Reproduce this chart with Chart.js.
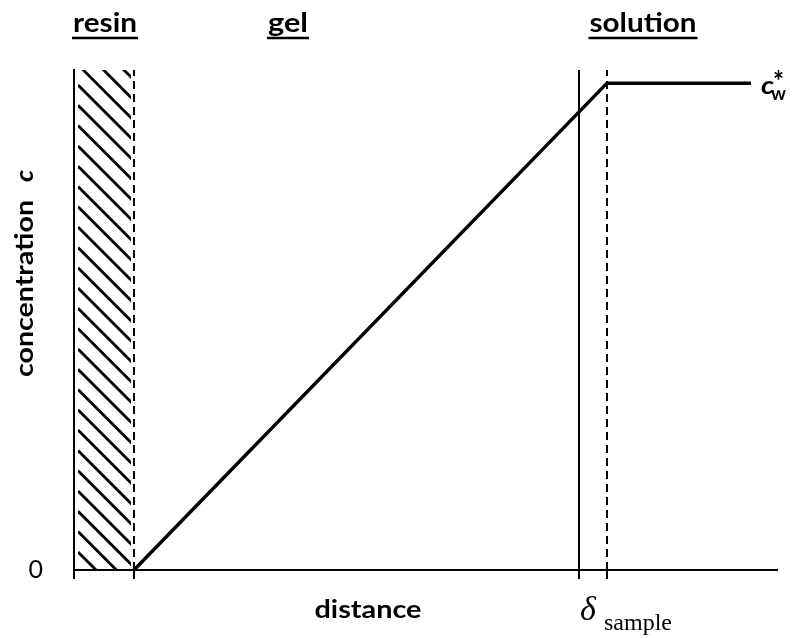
<!DOCTYPE html>
<html>
<head>
<meta charset="utf-8">
<title>Concentration profile across the gel layer</title>
<script src="https://cdn.jsdelivr.net/npm/chart.js@4/dist/chart.umd.min.js"></script>
<style>
  html, body { margin: 0; padding: 0; background: #ffffff; }
  canvas { display: block; }
</style>
</head>
<body>
<canvas id="profile" width="798" height="638"></canvas>
<script>
// Distance measured from the resin wall; concentration scaled so c_w* = 1.
const profileDistance = [60, 533, 677];
const profileConc     = [0, 1, 1];

// Layer boundaries along the distance axis.
const resinGelBoundary  = 60;
const gelSolutionFace   = 505;
const sampleBoundary    = 533;

// Axis extents and ticks.
const distanceRange = [0, 703];
const concRange     = [0, 1.027];
const distanceTicks = [0, 60, 505, 533];
const concTicks     = [0];
const concTickLabels = ['0'];

// Region names shown above the plot.
const regionNames = ['resin', 'gel', 'solution'];

// ---- drawing layout (pixels / data units for placement only) ----
const regionCenters = [31, 214, 569];     // distance units
const regionWidths  = [64, 40, 107];      // px, text width
const LABEL_FONT = 'bold 26px Lato';

function stretchedText(ctx, text, x, y, font, width, align) {
  ctx.save();
  ctx.font = font;
  const w = ctx.measureText(text).width;
  const s = width ? width / w : 1;
  let x0 = x;
  if (align === 'center') x0 = x - (w * s) / 2;
  else if (align === 'right') x0 = x - w * s;
  ctx.translate(x0, y);
  ctx.scale(s, 1);
  ctx.textAlign = 'left';
  ctx.textBaseline = 'alphabetic';
  ctx.fillText(text, 0, 0);
  ctx.restore();
  return { left: x0, right: x0 + w * s };
}

const diagramDecor = {
  id: 'diagramDecor',
  beforeDatasetsDraw(chart) {
    const { ctx, scales: { x, y } } = chart;
    // diagonal hatching of the resin
    const left = x.getPixelForValue(0) + 4;
    const right = x.getPixelForValue(resinGelBoundary) - 3;
    const top = y.getPixelForValue(concRange[1]);
    const bottom = y.getPixelForValue(0);
    ctx.save();
    ctx.beginPath();
    ctx.rect(left, top, right - left, bottom - top);
    ctx.clip();
    ctx.strokeStyle = '#000';
    ctx.lineWidth = 2.8;
    const step = 20.3;
    for (let k = -6; k < 32; k++) {
      const y0 = top + 15 + k * step;
      ctx.beginPath();
      ctx.moveTo(left, y0);
      ctx.lineTo(left + 80, y0 + 80);
      ctx.stroke();
    }
    ctx.restore();
  },
  afterDraw(chart) {
    const { ctx, scales: { x, y } } = chart;
    ctx.save();
    ctx.fillStyle = '#000';
    ctx.strokeStyle = '#000';

    // region headings, underlined
    regionNames.forEach((name, i) => {
      const cx = x.getPixelForValue(regionCenters[i]);
      const span = stretchedText(ctx, name, cx, 32, LABEL_FONT, regionWidths[i], 'center');
      ctx.lineWidth = 2.6;
      ctx.beginPath();
      ctx.moveTo(span.left - 1, 38);
      ctx.lineTo(span.right + 1, 38);
      ctx.stroke();
    });

    // plateau label c_w*
    const plateauY = y.getPixelForValue(1);
    stretchedText(ctx, 'c', 761, plateauY + 11, 'italic bold 25px Lato', 13, 'left');
    stretchedText(ctx, 'w', 771, plateauY + 17, 'bold 18px Lato', 15, 'left');
    stretchedText(ctx, '*', 773, plateauY + 8, 'bold 28px Lato', 11, 'left');

    // y-axis title
    ctx.save();
    ctx.translate(33, 377);
    ctx.rotate(-Math.PI / 2);
    stretchedText(ctx, 'concentration', 0, 0, 'bold 24px Lato', 177, 'left');
    stretchedText(ctx, 'c', 195, 0, 'italic bold 24px Lato', 12, 'left');
    ctx.restore();

    // x-axis title
    stretchedText(ctx, 'distance', 368, 618, 'bold 24px Lato', 107, 'center');

    // sample boundary label
    ctx.font = 'italic 34px "Liberation Serif"';
    ctx.textAlign = 'left';
    ctx.textBaseline = 'alphabetic';
    ctx.fillText('\u03B4', 580, 620);
    ctx.font = '24px "Liberation Serif"';
    ctx.fillText('sample', 604, 630);
    ctx.restore();
  }
};

const yTop = concRange[1];

new Chart(document.getElementById('profile'), {
  type: 'scatter',
  data: {
    datasets: [
      {
        label: 'profile',
        data: profileDistance.map((d, i) => ({ x: d, y: profileConc[i] })),
        showLine: true,
        borderColor: '#000',
        borderWidth: 3.5,
        pointRadius: 0,
        tension: 0
      },
      {
        label: 'resin/gel',
        data: [{ x: resinGelBoundary, y: 0 }, { x: resinGelBoundary, y: yTop }],
        showLine: true,
        borderColor: '#000',
        borderWidth: 2,
        borderDash: [8, 5],
        pointRadius: 0
      },
      {
        label: 'gel/solution',
        data: [{ x: gelSolutionFace, y: 0 }, { x: gelSolutionFace, y: yTop }],
        showLine: true,
        borderColor: '#000',
        borderWidth: 2,
        pointRadius: 0
      },
      {
        label: 'sample',
        data: [{ x: sampleBoundary, y: 0 }, { x: sampleBoundary, y: yTop }],
        showLine: true,
        borderColor: '#000',
        borderWidth: 2,
        borderDash: [8, 5],
        pointRadius: 0
      }
    ]
  },
  options: {
    responsive: false,
    animation: false,
    events: [],
    layout: { padding: { left: 0, top: 70, right: 21, bottom: 0 } },
    plugins: {
      legend: { display: false },
      tooltip: { enabled: false }
    },
    scales: {
      x: {
        type: 'linear',
        min: distanceRange[0],
        max: distanceRange[1],
        afterBuildTicks: (scale) => { scale.ticks = distanceTicks.map(v => ({ value: v })); },
        afterFit: (scale) => { scale.height = 68; },
        ticks: { callback: () => '', padding: 0 },
        grid: {
          drawOnChartArea: false,
          drawTicks: true,
          tickLength: 9,
          color: '#000',
          lineWidth: 2
        },
        border: { display: true, color: '#000', width: 2 }
      },
      y: {
        type: 'linear',
        min: concRange[0],
        max: concRange[1],
        afterBuildTicks: (scale) => { scale.ticks = concTicks.map(v => ({ value: v })); },
        afterFit: (scale) => { scale.width = 74; },
        ticks: {
          callback: (v) => concTickLabels[concTicks.indexOf(v)] ?? '',
          color: '#000',
          font: { family: 'Lato', size: 25 },
          padding: 31
        },
        grid: { drawOnChartArea: false, drawTicks: false },
        border: { display: true, color: '#000', width: 2 }
      }
    }
  },
  plugins: [diagramDecor]
});
</script>
</body>
</html>
